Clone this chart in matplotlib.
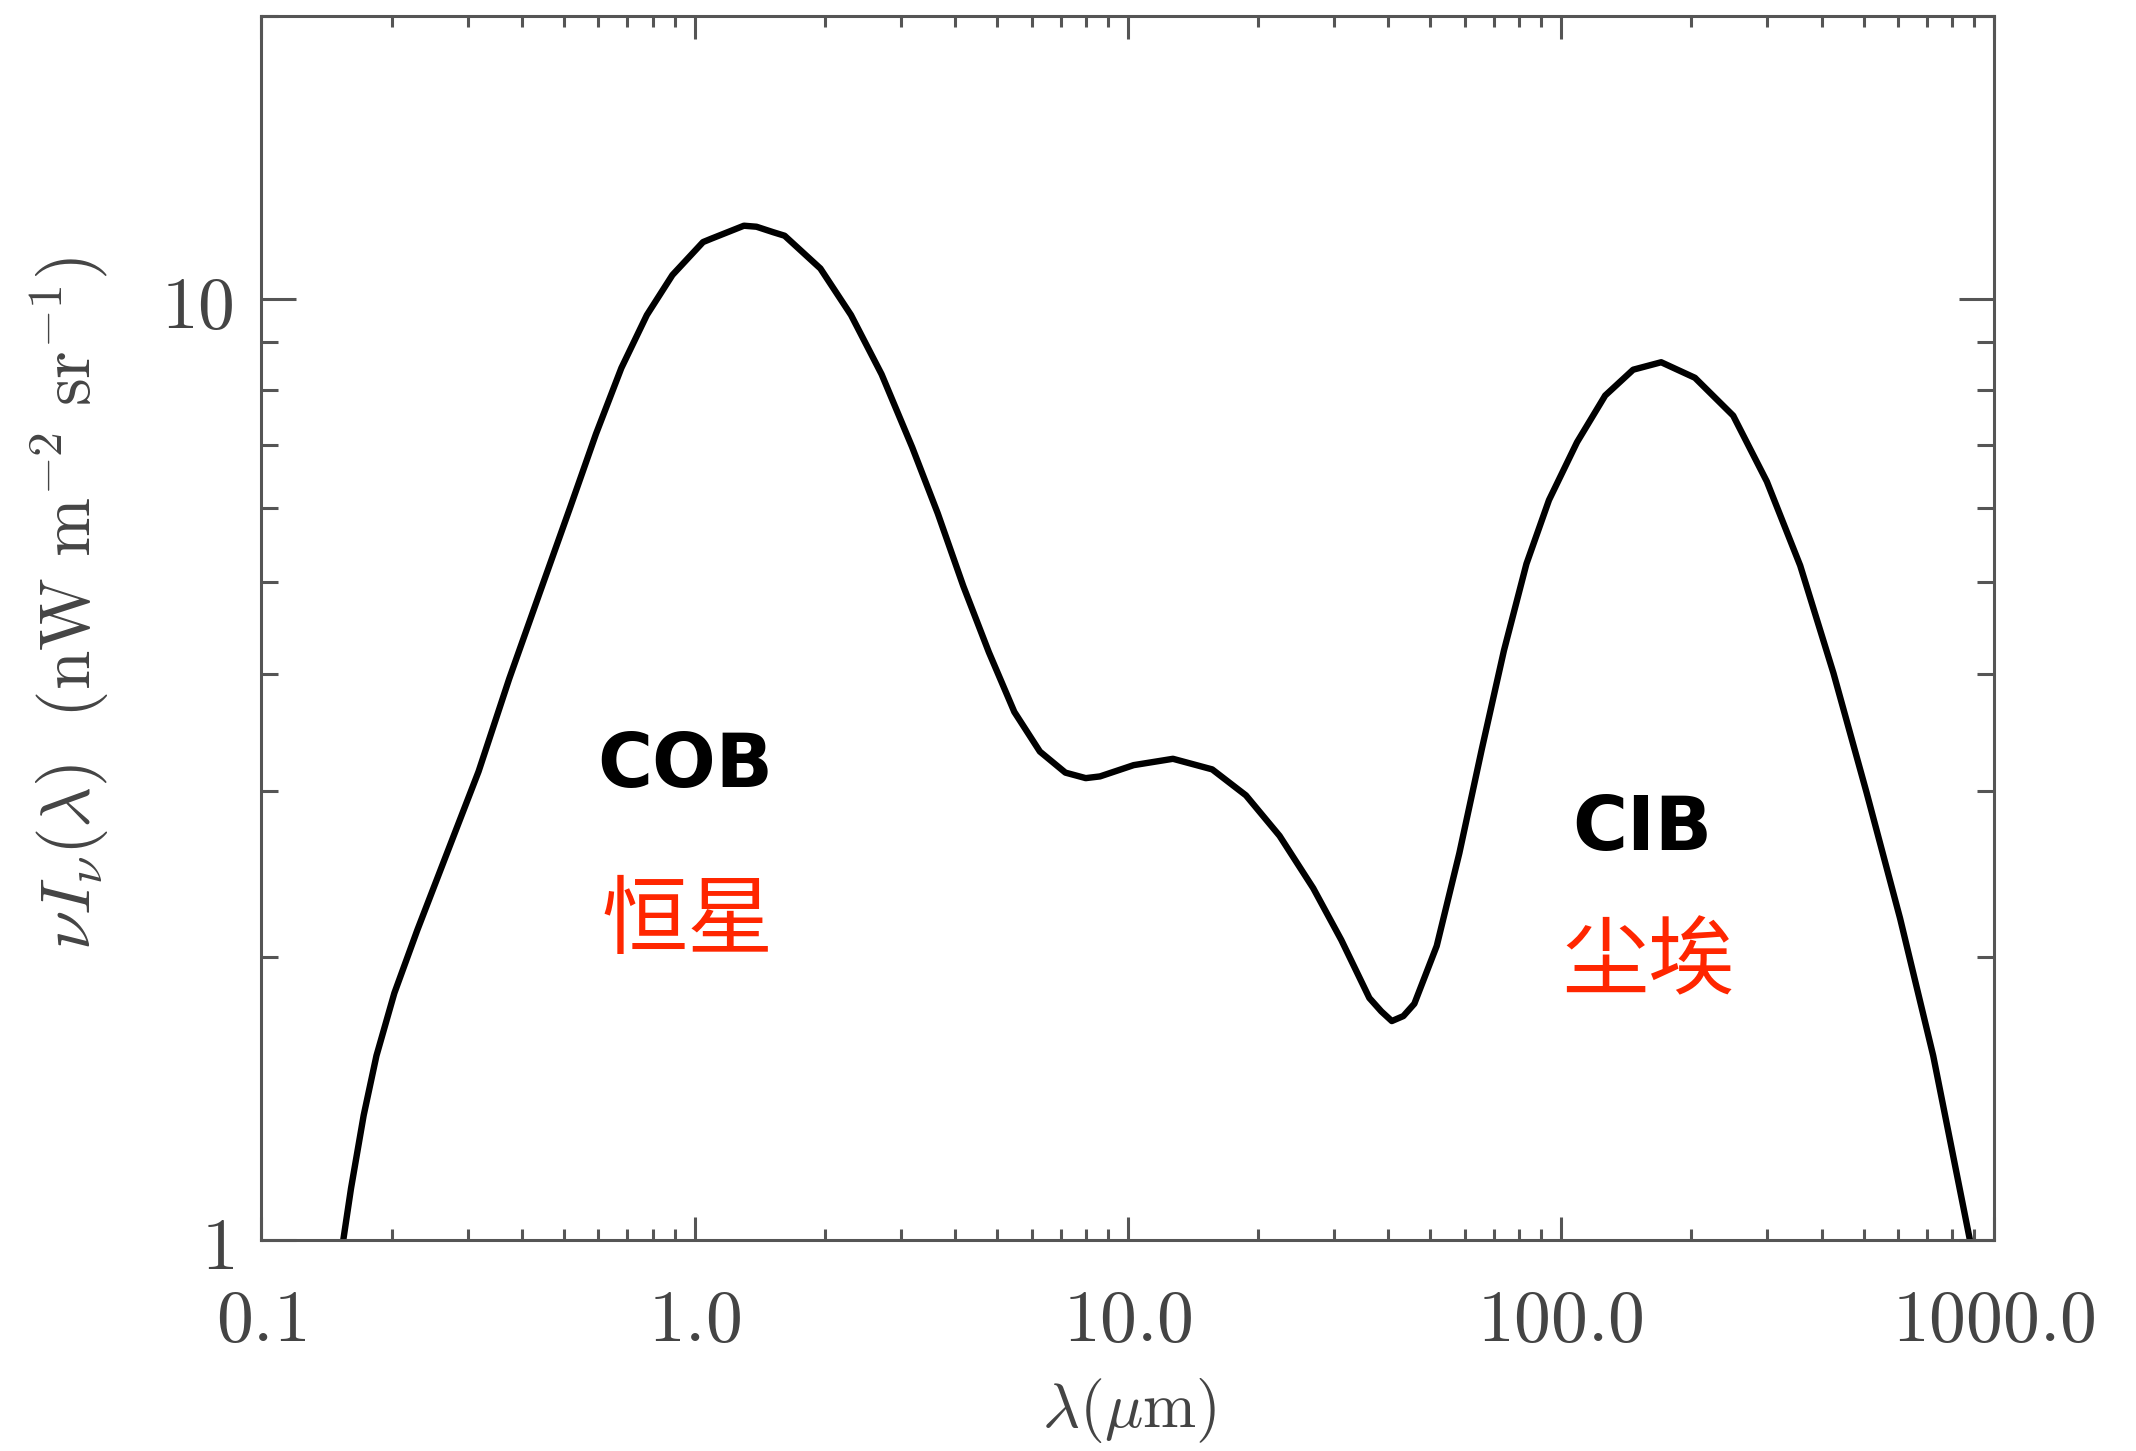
import matplotlib
matplotlib.use("Agg")
import matplotlib.pyplot as plt
from matplotlib.ticker import LogLocator, NullFormatter

# 宇宙背景辐射谱 (COB + CIB)，波长 μm，强度 nW m^-2 sr^-1
wavelength = [0.1545, 0.161, 0.1722, 0.1843, 0.2027, 0.229, 0.2695, 0.3172, 0.3733,
              0.4391, 0.5167, 0.592, 0.6776, 0.776, 0.889, 1.046, 1.09, 1.30, 1.39,
              1.52, 1.614, 1.952, 2.297, 2.703, 3.18, 3.643, 4.173, 4.78, 5.473,
              6.27, 7.18, 8.0, 8.63, 10.32, 12.72, 15.67, 18.75, 22.42, 26.81,
              31.13, 36.14, 38.5, 40.72, 43.3, 45.9, 51.7, 58.3, 65.7, 73.9, 83.3,
              93.9, 109.0, 126.6, 146.9, 170.5, 204.0, 250.0, 299.0, 357.0, 426.0,
              508.0, 607.0, 724.0, 880.0]
intensity = [1.0, 1.135, 1.357, 1.570, 1.830, 2.135, 2.593, 3.148, 3.95,
             4.876, 6.016, 7.19, 8.45, 9.62, 10.61, 11.5, 11.59, 11.97, 11.94,
             11.78, 11.68, 10.78, 9.62, 8.32, 6.96, 5.92, 4.955, 4.215, 3.642,
             3.305, 3.139, 3.097, 3.11, 3.197, 3.247, 3.164, 2.969, 2.689, 2.366,
             2.084, 1.808, 1.75, 1.709, 1.73, 1.783, 2.054, 2.577, 3.325, 4.232, 5.233,
             6.116, 7.047, 7.9, 8.415, 8.57, 8.25, 7.52, 6.40, 5.21, 4.005,
             2.99, 2.198, 1.57, 1.0]

x_ticks = [0.1, 1.0, 10.0, 100.0, 1000.0]
x_tick_labels = ['0.1', '1.0', '10.0', '100.0', '1000.0']
y_ticks = [1, 10]
y_tick_labels = ['1', '10']

plt.rcParams['mathtext.fontset'] = 'cm'
plt.rcParams['font.family'] = ['DejaVu Serif']

fig = plt.figure(figsize=(10.68, 7.255), dpi=200)
ax = fig.add_axes([0.1224, 0.1454, 0.8111, 0.8436])

ax.plot(wavelength, intensity, color='black', linewidth=2.3,
        solid_joinstyle='round', solid_capstyle='round')

ax.set_xscale('log')
ax.set_yscale('log')
ax.set_xlim(0.1, 1000)
ax.set_ylim(1, 20)

gray = '#444444'
for sp in ax.spines.values():
    sp.set_color('#555555')
    sp.set_linewidth(1.1)

ax.set_xticks(x_ticks)
ax.set_xticklabels(['$\\mathrm{%s}$' % s for s in x_tick_labels])
ax.set_yticks(y_ticks)
ax.set_yticklabels(['$\\mathrm{%s}$' % s for s in y_tick_labels])
ax.xaxis.set_minor_locator(LogLocator(base=10, subs=range(2, 10), numticks=20))
ax.yaxis.set_minor_locator(LogLocator(base=10, subs=range(2, 10), numticks=20))
ax.xaxis.set_minor_formatter(NullFormatter())
ax.yaxis.set_minor_formatter(NullFormatter())

ax.tick_params(which='both', direction='in', top=True, right=True,
               color='#555555', width=1.1, labelcolor=gray, labelsize=26.5)
ax.tick_params(axis='x', which='major', length=8.3, pad=16)
ax.tick_params(axis='x', which='minor', length=4.0)
ax.tick_params(axis='y', which='major', length=12.6, pad=10)
ax.tick_params(axis='y', which='minor', length=6.1)

# 坐标轴标题
ax.text(-0.111, 0.52, r'$\nu I_\nu(\lambda)\ \ (\mathrm{nW\ m^{-2}\ sr^{-1}})$',
        rotation=90, ha='center', va='center', transform=ax.transAxes,
        fontsize=25.5, color=gray)
ax.text(0.501, -0.111, r'$\lambda(\mu\mathrm{m})$', ha='center', va='top',
        transform=ax.transAxes, fontsize=23, color=gray)

# 区域标注
red = '#ff2600'
label_font = ['DejaVu Sans']
ax.text(0.2444, 0.3701, 'COB', ha='center', va='baseline', transform=ax.transAxes,
        fontsize=27, fontweight='bold', family=label_font, color='black')
ax.text(0.2458, 0.2590, '恒星', ha='center', va='center', transform=ax.transAxes,
        fontsize=31, family=['Noto Sans CJK SC', 'DejaVu Sans'], color=red)
ax.text(0.7971, 0.3186, 'CIB', ha='center', va='baseline', transform=ax.transAxes,
        fontsize=27, fontweight='bold', family=label_font, color='black')
ax.text(0.8006, 0.2255, '尘埃', ha='center', va='center', transform=ax.transAxes,
        fontsize=31, family=['Noto Sans CJK SC', 'DejaVu Sans'], color=red)

fig.savefig('out.png', dpi=200)
